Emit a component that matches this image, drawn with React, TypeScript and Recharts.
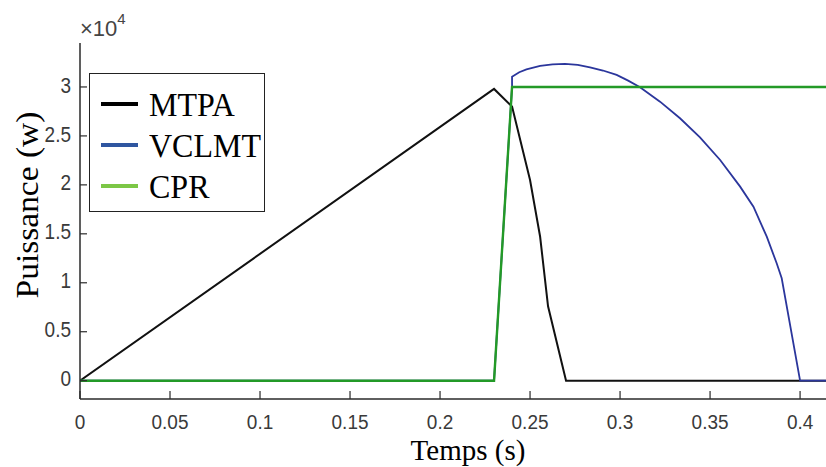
import React from 'react'
import { LineChart, Line, XAxis, YAxis, Label } from 'recharts'

// Temps (s) / Puissance (w)
const mtpaT = [0, 0.23, 0.24, 0.25, 0.2556, 0.26, 0.27, 0.4144]
const mtpaP = [0, 29800, 28000, 20500, 14700, 7600, 0, 0]

const vclmtT = [0, 0.23, 0.24, 0.24, 0.244, 0.248, 0.2556, 0.2625, 0.2694, 0.2765, 0.2833, 0.2905, 0.2981, 0.3045, 0.3111,
    0.3222, 0.3333, 0.3444, 0.3556, 0.3667, 0.3741, 0.3815, 0.387, 0.3898, 0.4, 0.4144]
const vclmtP = [0, 0, 30000, 31050, 31500, 31800, 32150, 32300, 32350, 32250, 32010, 31680, 31230, 30650, 29970,
    28500, 26800, 24860, 22540, 19820, 17770, 14710, 11990, 10460, 0, 0]

const cprT = [0, 0.23, 0.24, 0.4144]
const cprP = [0, 0, 30000, 30000]

const xTicks = [0, 0.05, 0.1, 0.15, 0.2, 0.25, 0.3, 0.35, 0.4]
const yTicks = [0, 5000, 10000, 15000, 20000, 25000, 30000]

const series = [
    { name: 'MTPA', t: mtpaT, p: mtpaP, stroke: '#111111', width: 2, legend: '#000000' },
    { name: 'VCLMT', t: vclmtT, p: vclmtP, stroke: '#2b369c', width: 1.8, legend: '#2f56a0' },
    { name: 'CPR', t: cprT, p: cprP, stroke: '#239a27', width: 2.4, legend: '#7cc746' },
]

const axisColor = '#2a2a2a'
const sans = '"Liberation Sans", Arial, sans-serif'
const serif = '"Liberation Serif", "Times New Roman", serif'

function fmtX(v: number): string {
    return String(Number(v.toFixed(2)))
}

function fmtY(v: number): string {
    return String(Number((v / 10000).toFixed(1)))
}

const BottomTick = (props: any) => {
    const { x, y, payload } = props
    return (
        <g>
            <line x1={x} x2={x} y1={y} y2={y - 8} stroke={axisColor} strokeWidth={1.2} />
            <text transform={`translate(${x},${y + 24}) scale(1,1.1)`} textAnchor="middle" dominantBaseline="middle"
                fontFamily={sans} fontSize={19} fill="#3a3a3a">
                {fmtX(payload.value)}
            </text>
        </g>
    )
}

const TopTick = (props: any) => {
    const { x, y } = props
    return <line x1={x} x2={x} y1={y} y2={y + 8} stroke={axisColor} strokeWidth={1.2} />
}

const LeftTick = (props: any) => {
    const { x, y, payload } = props
    return (
        <g>
            <line x1={x} x2={x + 7} y1={y} y2={y} stroke={axisColor} strokeWidth={1.2} />
            <text transform={`translate(${x - 9},${y}) scale(1,1.12)`} textAnchor="end" dominantBaseline="middle"
                fontFamily={sans} fontSize={19} fill="#3a3a3a">
                {fmtY(payload.value)}
            </text>
        </g>
    )
}

export default function App() {
    const lines = series.map(s => ({
        ...s,
        data: s.t.map((t, i) => ({ t, p: s.p[i] })),
    }))

    return (
        <div style={{ position: 'absolute', left: 0, top: 0, width: 826, height: 467, background: '#fff', overflow: 'hidden' }}>
            <LineChart width={826} height={467} margin={{ top: 43, right: 0, bottom: 0, left: 0 }}>
                <XAxis
                    dataKey="t"
                    type="number"
                    domain={[0, 0.4144]}
                    ticks={xTicks}
                    allowDataOverflow
                    height={68}
                    tickSize={0}
                    tickMargin={0}
                    tickLine={false}
                    tick={<BottomTick />}
                    axisLine={{ stroke: axisColor, strokeWidth: 1.5 }}
                >
                    <Label
                        content={() => (
                            <text x={468} y={460} textAnchor="middle"
                                fontFamily={serif} fontSize={29} fill="#000">
                                Temps (s)
                            </text>
                        )}
                    />
                </XAxis>
                <XAxis
                    xAxisId="top"
                    orientation="top"
                    dataKey="t"
                    type="number"
                    domain={[0, 0.4144]}
                    ticks={xTicks}
                    height={0}
                    tickSize={0}
                    tickMargin={0}
                    tickLine={false}
                    tick={<TopTick />}
                    axisLine={{ stroke: axisColor, strokeWidth: 1.5 }}
                />
                <YAxis
                    type="number"
                    domain={[-1870, 34490]}
                    ticks={yTicks}
                    allowDataOverflow
                    width={80}
                    tickSize={0}
                    tickMargin={0}
                    tickLine={false}
                    tick={<LeftTick />}
                    axisLine={{ stroke: axisColor, strokeWidth: 1.5 }}
                >
                    <Label
                        content={() => (
                            <text transform="translate(31,205) rotate(-90) scale(1.08,1)" textAnchor="middle" dominantBaseline="middle"
                                fontFamily={serif} fontSize={31} fill="#000">
                                Puissance (w)
                            </text>
                        )}
                    />
                </YAxis>
                {lines.map(s => (
                    <Line
                        key={s.name}
                        name={s.name}
                        data={s.data}
                        dataKey="p"
                        type="linear"
                        stroke={s.stroke}
                        strokeWidth={s.width}
                        dot={false}
                        activeDot={false}
                        isAnimationActive={false}
                    />
                ))}
            </LineChart>

            <div style={{ position: 'absolute', left: 80, top: 17, fontFamily: sans, fontSize: 22, lineHeight: '24px', color: '#444', whiteSpace: 'nowrap' }}>
                ×10<sup style={{ fontSize: 15, lineHeight: '15px', verticalAlign: 'top', position: 'relative', top: -6 }}>4</sup>
            </div>

            <div style={{
                position: 'absolute', left: 89, top: 73, width: 174, height: 137,
                border: '1.5px solid #222', background: '#fff',
            }}>
                {series.map((s, i) => (
                    <div key={s.name} style={{ position: 'absolute', left: 11, top: 12 + i * 41, height: 36, display: 'flex', alignItems: 'center' }}>
                        <div style={{ width: 37, height: 4, background: s.legend }} />
                        <span style={{ marginLeft: 11, fontFamily: serif, fontSize: 32, color: '#000', lineHeight: '36px', display: 'inline-block', transform: 'scaleY(1.08)' }}>{s.name}</span>
                    </div>
                ))}
            </div>
        </div>
    )
}
